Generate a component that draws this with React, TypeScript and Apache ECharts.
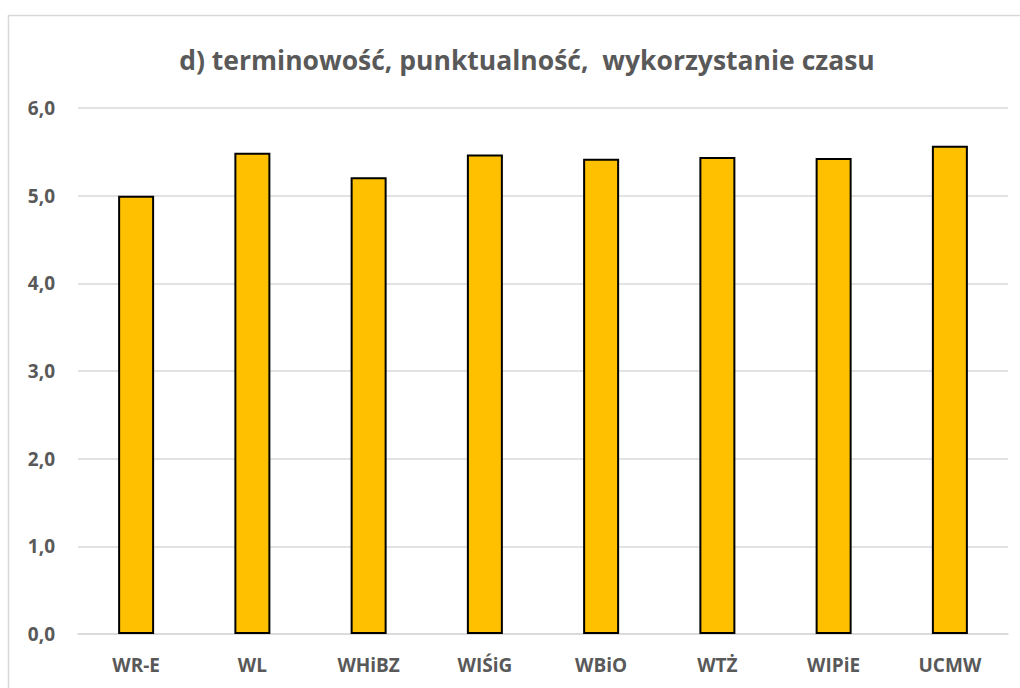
import React, { useEffect, useRef } from "react";
import * as echarts from "echarts";

const categories = ["WR-E", "WL", "WHiBZ", "WIŚiG", "WBiO", "WTŻ", "WIPiE", "UCMW"];
const values = [5.0, 5.49, 5.21, 5.47, 5.42, 5.44, 5.43, 5.57];
const titleText = "d) terminowość, punktualność,  wykorzystanie czasu";

export default function App() {
  const ref = useRef<HTMLDivElement>(null);
  useEffect(() => {
    document.body.style.margin = "0";
    const chart = echarts.init(ref.current!, null, { renderer: "svg" });
    chart.setOption({
      animation: false,
      backgroundColor: "#ffffff",
      title: {
        text: titleText,
        left: 522,
        textAlign: "center",
        top: 41,
        textStyle: { fontFamily: "Open Sans", fontWeight: "bold", fontSize: 26.5, color: "#595959" },
      },
      graphic: [
        {
          type: "rect",
          shape: { x: 8.5, y: 15.5, width: 1100, height: 1000 },
          style: { fill: "none", stroke: "#d9d9d9", lineWidth: 1.5 },
          silent: true,
        },
      ],
      grid: { left: 78, right: 12, top: 108, bottom: 54 },
      xAxis: {
        type: "category",
        data: categories,
        axisLine: { show: true, lineStyle: { color: "#d9d9d9", width: 1.5 } },
        axisTick: { show: false },
        axisLabel: { margin: 21, fontFamily: "Open Sans", fontWeight: "bold", fontSize: 19, color: "#595959" },
      },
      yAxis: {
        type: "value",
        min: 0,
        max: 6,
        interval: 1,
        axisLine: { show: false },
        axisTick: { show: false },
        splitLine: { lineStyle: { color: "#d9d9d9", width: 1.5 } },
        axisLabel: {
          margin: 23,
          fontFamily: "Open Sans",
          fontWeight: "bold",
          fontSize: 19,
          color: "#595959",
          formatter: (v: number) => v.toFixed(1).replace(".", ","),
        },
      },
      series: [
        {
          type: "bar",
          data: values,
          barWidth: 36,
          itemStyle: { color: "#FFC000", borderColor: "#000000", borderWidth: 2 },
        },
      ],
    });
    return () => chart.dispose();
  }, []);
  return <div ref={ref} style={{ width: 1020, height: 688 }} />;
}
